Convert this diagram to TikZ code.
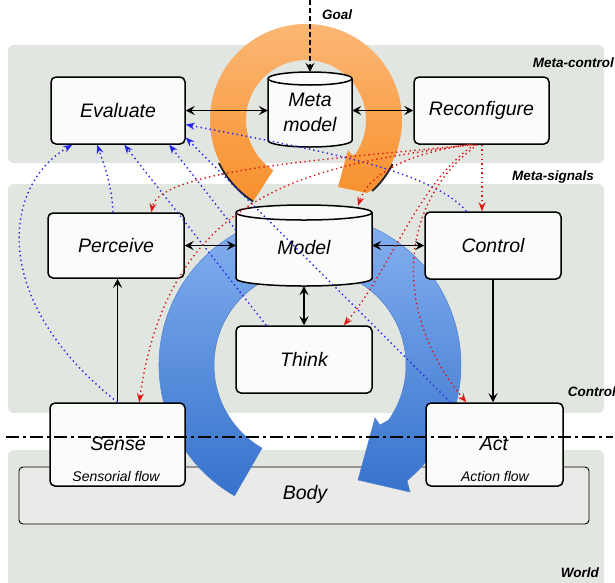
\documentclass[tikz,border=0pt]{standalone}
\usepackage{fontspec}
\setmainfont{Liberation Sans}
\usetikzlibrary{arrows.meta,calc}

\definecolor{panelgrey}{RGB}{226,230,225}
\definecolor{bodygrey}{RGB}{234,234,232}
\definecolor{boxfill}{RGB}{250,252,250}
\definecolor{sigblue}{RGB}{35,35,235}
\definecolor{sigred}{RGB}{222,22,22}
\definecolor{bluetop}{RGB}{140,182,243}
\definecolor{bluebot}{RGB}{54,114,204}
\definecolor{blueedge}{RGB}{78,128,206}
\definecolor{orangetop}{RGB}{252,186,122}
\definecolor{orangebot}{RGB}{247,144,44}

\begin{document}
\begin{tikzpicture}[x=1pt,y=-1pt,
  panel/.style={fill=panelgrey, rounded corners=6pt},
  blk/.style={draw=black, line width=1.5pt, fill=boxfill, rounded corners=5pt,
              inner sep=0pt, font=\fontsize{19.5}{24}\selectfont\itshape},
  cyltext/.style={inner sep=0pt, align=center, font=\fontsize{19.5}{25}\selectfont\itshape},
  cylshape/.style={draw=black, line width=1.5pt, fill=boxfill},
  small/.style={inner sep=0pt, font=\fontsize{14}{16}\selectfont\itshape},
  lbl/.style={inner sep=0pt, font=\fontsize{13.5}{15}\selectfont\bfseries\itshape},
  conn/.style={draw=black, line width=1.1pt, >={Stealth[length=9pt,width=9pt,inset=3.5pt]}},
  bsig/.style={draw=sigblue, line width=1.4pt, dash pattern=on 1.4pt off 3.2pt,
               -{Stealth[length=9pt,width=7pt,inset=3pt]}},
  rsig/.style={draw=sigred, line width=1.4pt, dash pattern=on 1.4pt off 3.2pt,
               -{Stealth[length=9pt,width=7pt,inset=3pt]}},
  dashdot/.style={draw=black, line width=1.2pt, dash pattern=on 13pt off 4pt on 3pt off 4pt}
]
\useasboundingbox (0,0) rectangle (615,582);

% layer panels
\fill[panel] (8,45) rectangle (604,163);
\fill[panel] (8,184) rectangle (604,413);
\fill[panel] (8,450) rectangle (604,600);

% body of the agent
\node[draw=black, line width=0.9pt, fill=bodygrey, rounded corners=4pt, inner sep=0pt,
      minimum width=570pt, minimum height=57pt] (body) at (304,495.5) {};
\node[inner sep=0pt, font=\fontsize{19.5}{24}\selectfont\itshape] (bodytxt) at (305,494) {Body};

% meta-control loop (orange circular arrow)
\begin{scope}[shift={(306,120)}]
  \begin{scope}
    \clip (-120,43) rectangle (120,120);
    \draw[line width=2.2pt, black!85] (123:97) arc[start angle=123, end angle=154, radius=97];
    \draw[line width=2.2pt, black!85] (27:97) arc[start angle=27, end angle=47, radius=97];
  \end{scope}
  \path[top color=orangetop, bottom color=orangebot]
    (123:96) arc[start angle=123, end angle=407, radius=96]
    -- (61,73) -- (32,67) -- (42,30) -- (46,35) -- (395:60)
    arc[start angle=395, end angle=123, radius=60] -- cycle;
\end{scope}

% control loop (blue circular arrow)
\begin{scope}[shift={(310,365)}]
  \path[top color=bluetop, bottom color=bluebot, draw=blueedge, line width=0.5pt]
    (120:151) arc[start angle=120, end angle=410, radius=151]
    -- (100,127) -- (48,115) -- (65,53) -- (70,60) -- (395:96)
    arc[start angle=395, end angle=120, radius=96] -- cycle;
\end{scope}

% meta model cylinder
\path[cylshape] (268,78.5) -- (268,140.5)
  arc[start angle=180, end angle=0, x radius=42, y radius=6.5] -- (352,78.5)
  arc[start angle=0, end angle=-180, x radius=42, y radius=6.5] -- cycle;
\draw[line width=1.5pt] (268,78.5) arc[start angle=180, end angle=0, x radius=42, y radius=6.5];
\node[inner sep=0pt, minimum width=84pt, minimum height=75pt] (metam) at (310,109.5) {};
\node[cyltext] (metatxt) at (310,112) {Meta\\model};

% model cylinder
\path[cylshape] (236,212.5) -- (236,278.5)
  arc[start angle=180, end angle=0, x radius=68, y radius=7.5] -- (372,212.5)
  arc[start angle=0, end angle=-180, x radius=68, y radius=7.5] -- cycle;
\draw[line width=1.5pt] (236,212.5) arc[start angle=180, end angle=0, x radius=68, y radius=7.5];
\node[inner sep=0pt, minimum width=136pt, minimum height=81pt] (model) at (304,245.5) {};
\node[cyltext] (modeltxt) at (304,248) {Model};

% function blocks
\node[blk, minimum width=134pt, minimum height=67pt] (eval) at (118,110.5) {Evaluate};
\node[blk, minimum width=135pt, minimum height=67pt] (reconf) at (481.5,110.5) {Reconfigure};
\node[blk, minimum width=136pt, minimum height=65pt] (perceive) at (116,245.5) {Perceive};
\node[blk, minimum width=136pt, minimum height=67pt] (control) at (493,245.5) {Control};
\node[blk, minimum width=136pt, minimum height=67pt] (think) at (304,359.5) {Think};
\node[blk, minimum width=135pt, minimum height=83pt] (sense) at (117.5,444.5) {};
\node[blk, minimum width=137pt, minimum height=83pt] (act) at (494.5,444.5) {};
\node[inner sep=0pt, font=\fontsize{19.5}{24}\selectfont\itshape] (sensetxt) at (118,444) {Sense};
\node[small] (senseflow) at (116,476) {Sensorial flow};
\node[inner sep=0pt, font=\fontsize{19.5}{24}\selectfont\itshape] (acttxt) at (494,444) {Act};
\node[small] (actflow) at (495,476) {Action flow};

% information flow
\coordinate (goaltop) at (310,0);
\draw[conn, ->, dash pattern=on 5pt off 3pt] (goaltop) -- (metam.north);
\draw[conn, <->] (eval.east) -- (eval.east -| metam.west);
\draw[conn, <->] (reconf.west -| metam.east) -- (reconf.west);
\draw[conn, <->] (perceive.east) -- (perceive.east -| model.west);
\draw[conn, <->] (control.west -| model.east) -- (control.west);
\draw[conn, <->] (model.south) -- (think.north);
\draw[conn, ->] (sense.north) -- (sense.north |- perceive.south);
\draw[conn, ->] (control.south) -- (control.south |- act.north);

% meta-signals towards Evaluate
\draw[bsig] (sense.north) .. controls (-12,300) and (3,185) .. ([xshift=22pt]eval.south west);
\draw[bsig] ([xshift=-3pt]perceive.north) .. controls (112,185) and (104,165) .. ([xshift=47pt]eval.south west);
\draw[bsig] ([xshift=31pt]think.north west) -- ([xshift=74pt]eval.south west);
\draw[bsig] ([yshift=15.5pt]model.west) -- ([xshift=119pt]eval.south west);
\draw[bsig] ([xshift=25pt]act.north west) -- ([yshift=-27pt]eval.east);
\draw[bsig] ([xshift=42pt]control.north west) .. controls (430,168) and (300,147) .. ([yshift=-14pt]eval.east);

% reconfiguration signals from Reconfigure
\draw[rsig] ([xshift=-11pt]reconf.south) .. controls (350,158) and (160,168) .. ([xshift=104pt]perceive.north west);
\draw[rsig] ([xshift=-13pt]reconf.south) .. controls (330,165) and (170,180) .. ([xshift=90pt]sense.north west);
\draw[rsig] ([xshift=-9pt]reconf.south) .. controls (420,150) and (370,170) .. ([xshift=54pt,yshift=-1pt]model.north);
\draw[rsig] ([xshift=0.5pt]reconf.south) -- ([xshift=-11pt]control.north);
\draw[rsig] ([xshift=-7pt]reconf.south) .. controls (420,180) and (390,270) .. ([xshift=-29pt]think.north east);
\draw[rsig] ([xshift=-4pt]reconf.south) .. controls (400,200) and (390,310) .. ([xshift=41pt]act.north west);

% boundary between controller and world
\coordinate (ddl) at (6,437);
\coordinate (ddr) at (613,437);
\draw[dashdot] (ddl) -- (ddr);

% layer labels
\node[lbl, anchor=west] (goal) at (322,15) {Goal};
\node[lbl, anchor=east] (lmeta) at (614,63) {Meta-control};
\node[lbl, anchor=east] (lsig) at (594,177) {Meta-signals};
\node[lbl, anchor=east] (lctrl) at (616,392) {Control};
\node[lbl, anchor=east] (lworld) at (599,573) {World};
\end{tikzpicture}
\end{document}
